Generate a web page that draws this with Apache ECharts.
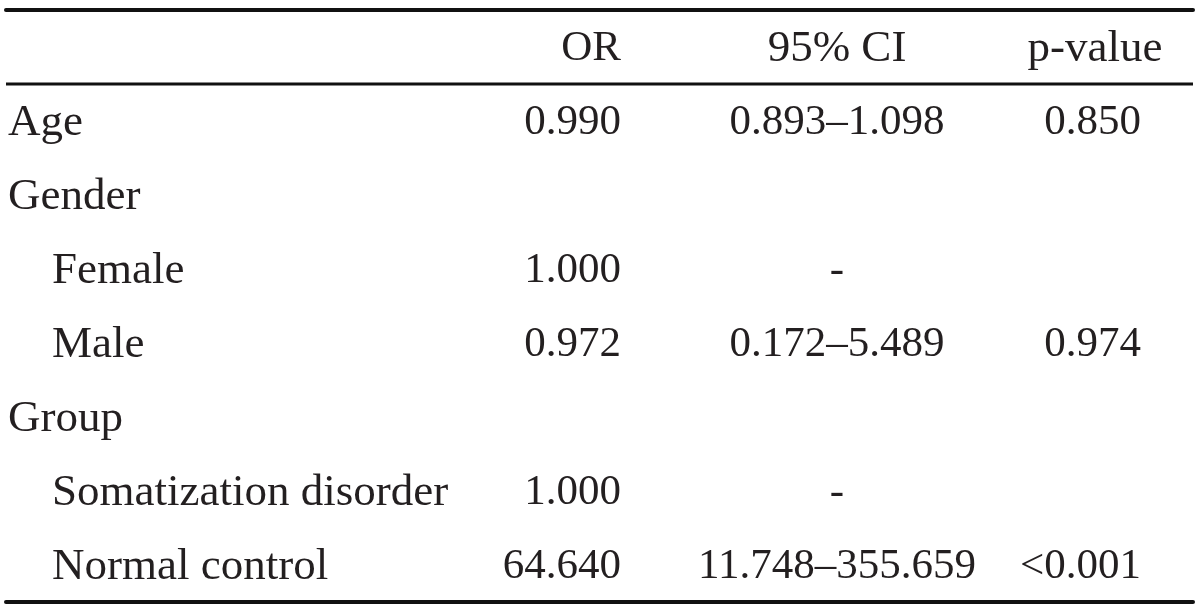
<!DOCTYPE html>
<html>
<head>
<meta charset="utf-8">
<title>Logistic regression table</title>
<script src="https://cdn.jsdelivr.net/npm/echarts@6/dist/echarts.min.js"></script>
<style>
  html, body { margin: 0; padding: 0; background: #fff; }
  #chart { width: 1200px; height: 611px; }
</style>
</head>
<body>
<div id="chart"></div>
<script>
// table content
const headers = ['', 'OR', '95% CI', 'p-value']
const rowLabels = ['Age', 'Gender', 'Female', 'Male', 'Group', 'Somatization disorder', 'Normal control']
const indentLevel = [0, 0, 1, 1, 0, 1, 1]
const orValues = ['0.990', '', '1.000', '0.972', '', '1.000', '64.640']
const ciValues = ['0.893\u20131.098', '', '-', '0.172\u20135.489', '', '-', '11.748\u2013355.659']
const pValues = ['0.850', '', '', '0.974', '', '', '<0.001']

// column anchors (x in px on the hidden value axis) and alignment
const colX = [8, 621, 837, 1141]
const colAlign = ['left', 'right', 'center', 'right']
const headerX = [8, 621, 837, 1095]
const headerAlign = ['left', 'right', 'center', 'center']
const indentPx = 44

const FONT = '"Liberation Serif", "DejaVu Serif", serif'
const NUM_SIZE = 43   // digits already match the reference width
const WORD_SIZE = 45  // words are a little wider in the original face
const INK = '#231f20'

const chart = echarts.init(document.getElementById('chart'))

const rowKeys = ['header'].concat(rowLabels)
const seriesData = rowKeys.map((k, i) => [i])

function renderRow(params, api) {
  const row = api.value(0)
  const bandH = api.size([0, 1])[1]
  const children = []
  const cells = row === 0
    ? headers
    : [rowLabels[row - 1], orValues[row - 1], ciValues[row - 1], pValues[row - 1]]
  cells.forEach((txt, c) => {
    if (!txt) return
    let x = row === 0 ? headerX[c] : colX[c]
    if (row > 0 && c === 0) x += indentLevel[row - 1] * indentPx
    const p = api.coord([x, row])
    const size = (row === 0 && c > 1) || c === 0 ? WORD_SIZE : NUM_SIZE
    children.push({
      type: 'text',
      style: {
        x: p[0],
        y: p[1] + 2,
        text: txt,
        fill: INK,
        font: size + 'px ' + FONT,
        align: row === 0 ? headerAlign[c] : colAlign[c],
        verticalAlign: 'middle'
      }
    })
  })
  if (row === 0) {
    // rule under the header row
    const a = api.coord([6, row])
    const b = api.coord([1193, row])
    children.push({
      type: 'line',
      shape: { x1: a[0], y1: a[1] + bandH / 2, x2: b[0], y2: b[1] + bandH / 2 },
      style: { stroke: '#111', lineWidth: 3 }
    })
  }
  return { type: 'group', children }
}

chart.setOption({
  animation: false,
  grid: { left: 6, right: 7, top: 10, bottom: 9 },
  xAxis: [{
    type: 'value',
    min: 6,
    max: 1193,
    position: 'top',
    axisLine: { show: true, lineStyle: { color: '#111', width: 4 } },
    axisTick: { show: false },
    axisLabel: { show: false },
    splitLine: { show: false }
  }, {
    type: 'value',
    min: 6,
    max: 1193,
    position: 'bottom',
    axisLine: { show: true, lineStyle: { color: '#111', width: 4 } },
    axisTick: { show: false },
    axisLabel: { show: false },
    splitLine: { show: false }
  }],
  yAxis: {
    type: 'category',
    inverse: true,
    data: rowKeys,
    axisLine: { show: false },
    axisTick: { show: false },
    axisLabel: { show: false },
    splitLine: { show: false }
  },
  series: [{
    type: 'custom',
    xAxisIndex: 0,
    renderItem: renderRow,
    data: seriesData,
    silent: true
  }]
})
</script>
</body>
</html>
